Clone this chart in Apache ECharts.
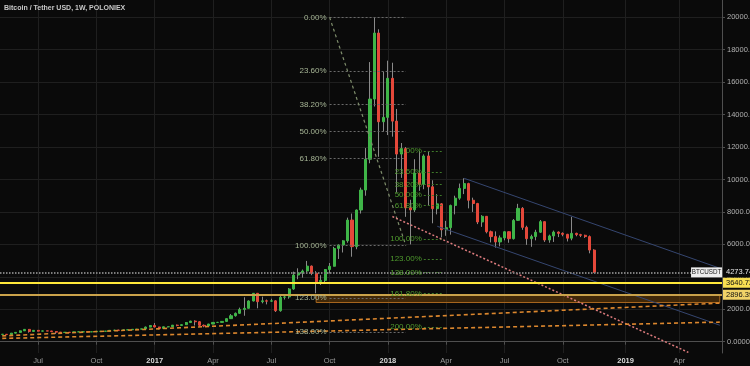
<!DOCTYPE html>
<html><head><meta charset="utf-8">
<script src="https://cdn.jsdelivr.net/npm/echarts@6/dist/echarts.min.js"></script>
<style>html,body{margin:0;padding:0;background:#0a0a0a}#c{width:750px;height:366px}</style>
</head><body><div id="c"></div>
<script>
const chartTitle = 'Bitcoin / Tether USD, 1W, POLONIEX';
const firstWeek = '2016-05-09';
const lastAxisWeek = '2019-06-03';
// weekly candles [open, close, low, high], one per week from firstWeek
const candles = [
  // 2016
  [455,457,446,462],[457,443,436,460],[443,528,441,535],[528,575,520,590],[575,670,570,680],
  [670,760,665,780],[760,632,555,770],[632,700,615,705],[700,650,630,705],[650,665,640,680],
  [665,662,645,680],[662,624,620,665],[624,588,480,628],[588,570,565,600],[570,581,565,590],
  [581,573,568,590],[573,606,568,612],[606,608,601,630],[608,610,603,612],[610,602,590,612],
  [602,612,598,615],[612,640,605,645],[640,640,630,648],[640,653,630,660],[653,700,650,720],
  [700,705,680,740],[705,700,690,745],[700,730,700,750],[730,735,725,750],[735,765,730,775],
  [765,775,760,780],[775,790,765,795],[790,900,788,935],[900,1000,890,1000],
  // 2017
  [1000,905,880,1150],[905,820,750,920],[820,920,820,930],[920,920,880,930],[920,1020,915,1030],
  [1020,1000,950,1060],[1000,1050,990,1060],[1050,1180,1050,1200],[1180,1270,1150,1290],[1270,1230,1000,1320],
  [1230,1010,950,1260],[1010,970,890,1060],[970,1090,960,1100],[1090,1190,1080,1210],[1190,1190,1160,1220],
  [1190,1250,1180,1260],[1250,1420,1240,1430],[1420,1600,1400,1700],[1600,1750,1550,1800],[1750,1990,1730,2100],
  [1990,2060,1600,2740],[2060,2510,2050,2550],[2510,2984,2480,3000],[2984,2466,2060,2990],[2466,2520,2364,2774],
  [2520,2500,2300,2600],[2500,2520,2450,2650],[2520,1910,1830,2560],[1910,2740,1850,2900],[2740,2760,2600,2850],
  [2760,3250,2650,3300],[3250,4110,3200,4320],[4110,4250,3850,4525],[4250,4360,3950,4450],[4360,4660,4200,4980],
  [4660,4220,4100,4700],[4220,3700,2984,4350],[3700,3780,3500,4100],[3780,4450,3600,4460],[4450,4650,4200,4850],
  [4650,5750,4650,5850],[5750,5960,5100,6000],[5960,6220,5500,6250],[6220,7500,6100,7650],[7500,5860,5240,7900],
  [5860,8120,5700,8150],[8120,9350,7900,9500],[9350,11245,9000,11940],[11245,14960,11000,17240],[14960,19030,14500,20000],
  [19030,13560,11400,19260],[13560,13830,12950,16650],
  // 2018
  [13830,16240,12740,17325],[16240,13600,12640,17200],[13600,11570,9200,14350],[11570,11900,10100,12250],[11900,8250,7700,12000],
  [8250,8130,6000,8750],[8130,10400,8000,11250],[10400,9700,9300,11750],[9700,11450,9400,11550],[11450,9550,8400,11700],
  [9550,8200,7300,9950],[8200,8500,7850,9100],[8500,6900,6430,8550],[6900,7030,6530,7450],[7030,8400,6600,8450],
  [8400,8850,7850,9000],[8850,9450,8750,9750],[9450,9750,9100,10074],[9750,8720,8220,9800],[8720,8520,8000,8880],
  [8520,7380,7250,8560],[7380,7730,7080,7800],[7730,6780,6680,7750],[6780,6480,6120,6850],[6480,6150,5800,6800],
  [6150,6400,5880,6550],[6400,6780,6250,6800],[6780,6350,6100,6800],[6350,7480,6300,7560],[7480,8220,7450,8500],
  [8220,7050,6900,8300],[7050,6350,5970,7150],[6350,6480,5850,6600],[6480,6750,6250,6900],[6750,7400,6700,7500],
  [7400,6270,6150,7410],[6270,6520,6100,6600],[6520,6760,6150,6850],[6760,6680,6450,6800],[6680,6620,6500,6740],
  [6620,6380,6180,6650],[6380,6680,6250,7700],[6680,6600,6500,6720],[6600,6560,6450,6650],[6560,6480,6400,6600],
  [6480,5650,5450,6550],[5650,4273.74,4250,5700]
];
const xTickWeeks = ['2016-07-04','2016-10-03','2017-01-02','2017-04-03','2017-07-03','2017-10-02','2018-01-01','2018-04-02','2018-07-02','2018-10-01','2019-01-07','2019-04-01'];
const xTickLabels = ['Jul','Oct','2017','Apr','Jul','Oct','2018','Apr','Jul','Oct','2019','Apr'];
const yTicks = [0,2000,4000,6000,8000,10000,12000,14000,16000,18000,20000];
const yRange = [-697, 21067];

const fibALevels = [0, 0.236, 0.382, 0.5, 0.618, 1, 1.23, 1.38];
const fibAAnchors = [['2017-10-02', 20000], ['2018-01-29', 5930]];
const fibBLevels = [0, 0.236, 0.382, 0.5, 0.618, 1, 1.23, 1.38, 1.618, 2];
const fibBAnchors = [['2018-02-26', 11757], ['2018-03-26', 6330]];
const trendPink = [['2018-01-08', 7720], ['2019-04-15', -660]];
const channelUpper = [['2018-04-30', 10074], ['2019-06-03', 4530]];
const channelLower = [['2018-03-19', 7115], ['2019-06-03', 1017]];
const orangeLines = [
  [['2016-05-09', 357], ['2019-06-03', 2380]],
  [['2016-05-09', 203], ['2019-06-03', 1208]]
];
const lastPrice = 4273.74;
const yellowLevel = 3640.72;
const goldLevel = 2896.39;
const zoneBox = [['2017-09-11', goldLevel], ['2019-06-03', 2417]];
const symbolName = 'BTCUSDT';

// ---- build
function weekList(a, b) {
  const out = []; let t = Date.parse(a + 'T00:00:00Z'); const e = Date.parse(b + 'T00:00:00Z');
  while (t <= e) { out.push(new Date(t).toISOString().slice(0, 10)); t += 7 * 864e5; }
  return out;
}
const weeks = weekList(firstWeek, lastAxisWeek);
const tickSet = new Set(xTickWeeks);
const tickFn = (i, v) => tickSet.has(v);
const labelMap = {}; xTickWeeks.forEach((w, i) => labelMap[w] = xTickLabels[i]);

const wickData = candles.map(c => [c[0], c[1], c[2], c[3]]);
const bodyData = candles.map(c => [c[0], c[1], Math.min(c[0], c[1]), Math.max(c[0], c[1])]);

const FONT = 'Liberation Sans, Arial, sans-serif';
const lines = [];
function seg(p, q, style, label) {
  lines.push([{coord: p, lineStyle: style, label: label || {show: false}}, {coord: q}]);
}
// fib A
const [a0, a1] = fibAAnchors;
fibALevels.forEach(l => {
  const v = a0[1] - l * (a0[1] - a1[1]);
  seg([a0[0], v], [a1[0], v], {color: '#6a6a6a', width: 1, type: [2, 2]},
      {show: true, position: 'start', distance: 3, formatter: (l * 100).toFixed(2) + '%', color: '#a7b696', fontSize: 8, fontFamily: FONT});
});
seg(a0, a1, {color: '#7f8e6c', width: 1.2, type: [3, 3]});
// fib B
const [b0, b1] = fibBAnchors;
fibBLevels.forEach(l => {
  const v = b0[1] - l * (b0[1] - b1[1]);
  seg([b0[0], v], [b1[0], v], {color: '#3f7a2a', width: 1, type: [2, 2]},
      {show: true, position: 'start', distance: 2, formatter: (l * 100).toFixed(2) + '%', color: '#4f9a2e', fontSize: 8, fontFamily: FONT});
});
seg(trendPink[0], trendPink[1], {color: '#de7c7e', width: 1.5, type: [2, 2]});
seg(channelUpper[0], channelUpper[1], {color: '#354670', width: 1, type: 'solid'});
seg(channelLower[0], channelLower[1], {color: '#354670', width: 1, type: 'solid'});
orangeLines.forEach(o => seg(o[0], o[1], {color: '#dc872e', width: 1.6, type: [4, 3]}));
// horizontal levels
lines.push({yAxis: lastPrice, lineStyle: {color: '#7c7c7c', width: 2, type: [1.5, 1.5]},
  label: {show: true, position: 'end', distance: 1, formatter: lastPrice.toFixed(2), color: '#e6e6e6', backgroundColor: '#0a0a0a', padding: [1, 3], fontSize: 7.5, fontFamily: FONT}});
lines.push({yAxis: yellowLevel, lineStyle: {color: '#ffe83a', width: 2, type: 'solid'},
  label: {show: true, position: 'end', distance: 1, formatter: yellowLevel.toFixed(2), color: '#111', backgroundColor: '#f8df52', padding: [1, 3], fontSize: 7.5, fontFamily: FONT}});
lines.push({yAxis: goldLevel, lineStyle: {color: '#caa24a', width: 2, type: 'solid'},
  label: {show: true, position: 'end', distance: 1, formatter: goldLevel.toFixed(2), color: '#111', backgroundColor: '#f0d268', padding: [1, 3], fontSize: 7.5, fontFamily: FONT}});

const yFmt = v => { const s = String(Math.round(Math.abs(v))); return v.toFixed(Math.max(0, 7 - s.length)); };

const chart = echarts.init(document.getElementById('c'), null, {renderer: 'canvas'});
chart.setOption({
  backgroundColor: '#0a0a0a',
  animation: false,
  title: {text: chartTitle, left: 4, top: 5, padding: 0,
    textStyle: {fontSize: 7, fontWeight: 'bold', color: '#c8c8c8', fontFamily: FONT}},
  grid: {left: 0, right: 28, top: 0, bottom: 13, containLabel: false, outerBoundsMode: 'none'},
  xAxis: {
    type: 'category', data: weeks, boundaryGap: true,
    axisLine: {lineStyle: {color: '#4f4f4f'}},
    axisTick: {show: true, interval: tickFn, alignWithLabel: true, length: 3, lineStyle: {color: '#4f4f4f'}},
    axisLabel: {interval: tickFn, margin: 4, fontSize: 7.5, color: '#9c9c9c', fontFamily: FONT, hideOverlap: false,
      formatter: v => { const t = labelMap[v] || ''; return /^\d{4}$/.test(t) ? '{y|' + t + '}' : t; },
      rich: {y: {fontSize: 7.5, fontWeight: 'bold', color: '#d8d8d8', fontFamily: FONT}}},
    splitLine: {show: true, interval: tickFn, alignWithLabel: true, lineStyle: {color: '#1f1f1f', width: 1}}
  },
  yAxis: {
    type: 'value', position: 'right', min: yRange[0], max: yRange[1], scale: true,
    axisLine: {show: true, lineStyle: {color: '#4f4f4f'}},
    axisTick: {show: true, length: 3, customValues: yTicks, lineStyle: {color: '#4f4f4f'}},
    axisLabel: {customValues: yTicks, margin: 5, fontSize: 7.5, color: '#b0b0b0', fontFamily: FONT, formatter: yFmt},
    splitLine: {show: true, lineStyle: {color: '#1f1f1f', width: 1}}
  },
  series: [
    {type: 'candlestick', name: 'wick', data: wickData, barWidth: 1, z: 2, silent: true,
      itemStyle: {color: '#8a8a8a', color0: '#8a8a8a', borderColor: '#8a8a8a', borderColor0: '#8a8a8a', borderWidth: 1}},
    {type: 'candlestick', name: 'body', data: bodyData, barWidth: 2.6, z: 3, silent: true,
      itemStyle: {color: '#3fb548', color0: '#e4483a', borderColor: '#3fb548', borderColor0: '#e4483a', borderWidth: 1}},
    {type: 'line', name: 'drawings', data: [], z: 4, silent: true,
      markArea: {silent: true, itemStyle: {color: 'rgba(100,60,8,0.6)', borderColor: '#a8671f', borderWidth: 1},
        data: [[{coord: zoneBox[0]}, {coord: zoneBox[1]}]]},
      markLine: {silent: true, symbol: ['none', 'none'], animation: false, data: lines},
      markPoint: {silent: true, animation: false, data: [{coord: [lastAxisWeek, lastPrice], symbol: 'rect', symbolSize: [31, 10], symbolOffset: [-13.2, 0],
        itemStyle: {color: '#eeeeee'}, label: {show: true, position: 'inside', formatter: symbolName, color: '#222', fontSize: 6.3, fontFamily: FONT}}]}
    }
  ]
});
</script></body></html>
